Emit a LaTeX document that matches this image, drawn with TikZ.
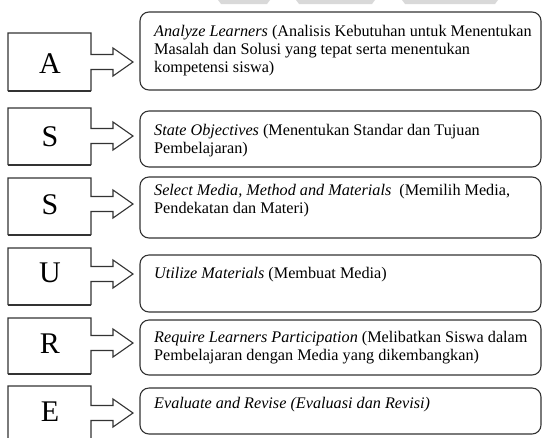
\documentclass[tikz,border=0pt]{standalone}
\usepackage{fontspec}
\setmainfont{Liberation Serif}
\begin{document}
\begin{tikzpicture}[x=1pt,y=-1pt,
  sqline/.style={draw=black!80, line width=1.1pt, line join=miter},
  rbox/.style={draw=black!80, line width=1.1pt, rounded corners=9pt},
  letter/.style={font=\fontsize{30}{30}\selectfont, inner sep=0pt, anchor=base},
  txt/.style={font=\fontsize{16.2}{17.8}\selectfont, align=left, inner sep=0pt, anchor=north west},
  wm/.style={fill=black!15, draw=none}]
\useasboundingbox (0,0) rectangle (545,437);
% watermark fragments at top
\fill[wm] (218,0) -- (270,0) -- (267,4) -- (221,4) -- cycle;
\fill[wm] (296,0) -- (375,0) -- (372,4) -- (299,4) -- cycle;
\fill[wm] (402,0) -- (498,0) -- (495,4) -- (405,4) -- cycle;
% #1 square top, #2 square bottom, #3 arrow tip y
\newcommand\asrow[3]{%
  \draw[sqline] (8,#2) -- (8,#1) -- (91,#1) -- (91,#3-7.5) -- (113,#3-7.5) -- (113,#3-14)
    -- (133,#3) -- (113,#3+14) -- (113,#3+7.5) -- (91,#3+7.5) -- (91,#2);}
% rows
\asrow{33}{91}{62}   \draw[sqline] (8,91) -- (91,91);
\asrow{108}{165}{136} \draw[sqline] (8,165) -- (91,165);
\asrow{178}{235}{204} \draw[sqline] (8,235) -- (91,235);
\asrow{248}{305}{274} \draw[sqline] (8,305) -- (91,305);
\asrow{318}{374}{343} \draw[sqline] (8,374) -- (91,374);
\asrow{386}{438}{413}

\node[letter] (lA) at (50,73) {A};
\node[letter] (lS1) at (50,146) {S};
\node[letter] (lS2) at (50,214) {S};
\node[letter] (lU) at (50,282) {U};
\node[letter] (lR) at (50,353) {R};
\node[letter] (lE) at (50,421) {E};

\draw[rbox] (140,12) rectangle (541,90);
\draw[rbox] (140,111) rectangle (541,167);
\draw[rbox] (140,177) rectangle (541,238);
\draw[rbox] (140,255) rectangle (541,312);
\draw[rbox] (140,320) rectangle (541,375);
\draw[rbox] (140,388) rectangle (541,434);

\node[txt] (tA) at (154,25) {\rule{0pt}{11pt}\textit{Analyze Learners} (Analisis Kebutuhan untuk Menentukan\\Masalah dan Solusi yang tepat serta menentukan\\kompetensi siswa)};
\node[txt] (tS1) at (154,124) {\rule{0pt}{11pt}\textit{State Objectives} (Menentukan Standar dan Tujuan\\Pembelajaran)};
\node[txt] (tS2) at (154,184) {\rule{0pt}{11pt}\textit{Select Media, Method and Materials}\ \ (Memilih Media,\\Pendekatan dan Materi)};
\node[txt] (tU) at (154,267) {\rule{0pt}{11pt}\textit{Utilize Materials} (Membuat Media)};
\node[txt] (tR) at (154,331) {\rule{0pt}{11pt}\textit{Require Learners Participation} (Melibatkan Siswa dalam\\Pembelajaran dengan Media yang dikembangkan)};
\node[txt] (tE) at (154,397) {\rule{0pt}{11pt}\textit{Evaluate and Revise (Evaluasi dan Revisi)}};
\end{tikzpicture}
\end{document}
